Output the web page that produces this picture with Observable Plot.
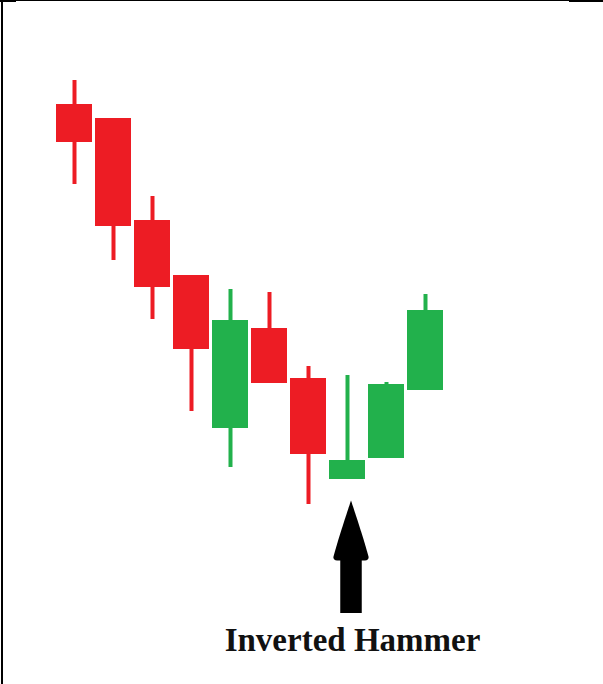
<!DOCTYPE html>
<html>
<head>
<meta charset="utf-8">
<script src="https://cdn.jsdelivr.net/npm/d3@7"></script>
<script src="https://cdn.jsdelivr.net/npm/@observablehq/plot@0.6"></script>
<style>
  html, body { margin: 0; padding: 0; background: #fff; }
  #wrap { position: relative; width: 603px; height: 684px; overflow: hidden; }
  .bd { position: absolute; background: #000; }
</style>
</head>
<body>
<div id="wrap">
  <div id="chart"></div>
  <div class="bd" style="left:1px;top:0;width:2px;height:684px"></div>
  <div class="bd" style="left:0;top:0;width:603px;height:1px"></div>
  <div class="bd" style="left:0;top:0;width:16px;height:2px"></div>
  <div class="bd" style="left:569px;top:0;width:34px;height:2px"></div>
</div>
<script>
// Candle data (arbitrary price units)
const candles = ["1", "2", "3", "4", "5", "6", "7", "8", "9", "10"];
const open  = [104, 100.5, 75, 61.25, 23, 48, 35.5, 10.25, 15.5, 32.5];
const close = [94.5, 73.5, 58.25, 42.75, 50, 34.25, 16.5, 15, 34, 52.5];
const high  = [110, 100.5, 81, 61.25, 57.75, 57, 38.5, 36.25, 34.5, 56.5];
const low   = [84, 65, 50.25, 27.25, 13.25, 34.25, 4, 10.25, 15.5, 32.5];

const annotationLabel = "Inverted Hammer";
const annotatedCandle = "8";
const arrowShaft = [{x: annotatedCandle, y1: -23.25, y2: -9}];
const arrowHead = [{x: annotatedCandle, y: -2.5}];
const labelPos = [{x: annotatedCandle, y: -32.5, text: annotationLabel}];

const data = candles.map((c, i) => ({
  candle: c, open: open[i], close: close[i], high: high[i], low: low[i]
}));

const RED = "#ED1C24", GREEN = "#22B14C";
const color = d => d.close >= d.open ? GREEN : RED;

// elongated filled triangle for the arrow head
const headSymbol = {
  draw(ctx) {
    ctx.moveTo(0, -30);
    ctx.bezierCurveTo(4, -18, 12, 6, 17.5, 26);
    ctx.quadraticCurveTo(18, 30, 14, 30);
    ctx.lineTo(-14, 30);
    ctx.quadraticCurveTo(-18, 30, -17.5, 26);
    ctx.bezierCurveTo(-12, 6, -4, -18, 0, -30);
    ctx.closePath();
  }
};

const plot = Plot.plot({
  width: 603,
  height: 684,
  marginTop: 0,
  marginBottom: 164,
  marginLeft: 54.6,
  marginRight: 158.9,
  x: {type: "band", domain: candles, paddingInner: 0.08, paddingOuter: 0, axis: null},
  y: {domain: [0, 130], axis: null},
  marks: [
    Plot.ruleX(data, {x: "candle", y1: "low", y2: "high", stroke: color, strokeWidth: 4}),
    Plot.barY(data, {x: "candle", y1: "open", y2: "close", fill: color}),
    Plot.ruleX(arrowShaft, {x: "x", y1: "y1", y2: "y2", stroke: "#000", strokeWidth: 21.5, dx: 3.5}),
    Plot.dot(arrowHead, {x: "x", y: "y", symbol: headSymbol, fill: "#000", stroke: "none", dx: 3.5}),
    Plot.text(labelPos, {x: "x", y: "y", text: "text", dx: 5, lineAnchor: "bottom",
      fontFamily: "Liberation Serif", fontWeight: "bold", fontSize: 33, fill: "#111"})
  ]
});
document.getElementById("chart").appendChild(plot);
</script>
</body>
</html>
